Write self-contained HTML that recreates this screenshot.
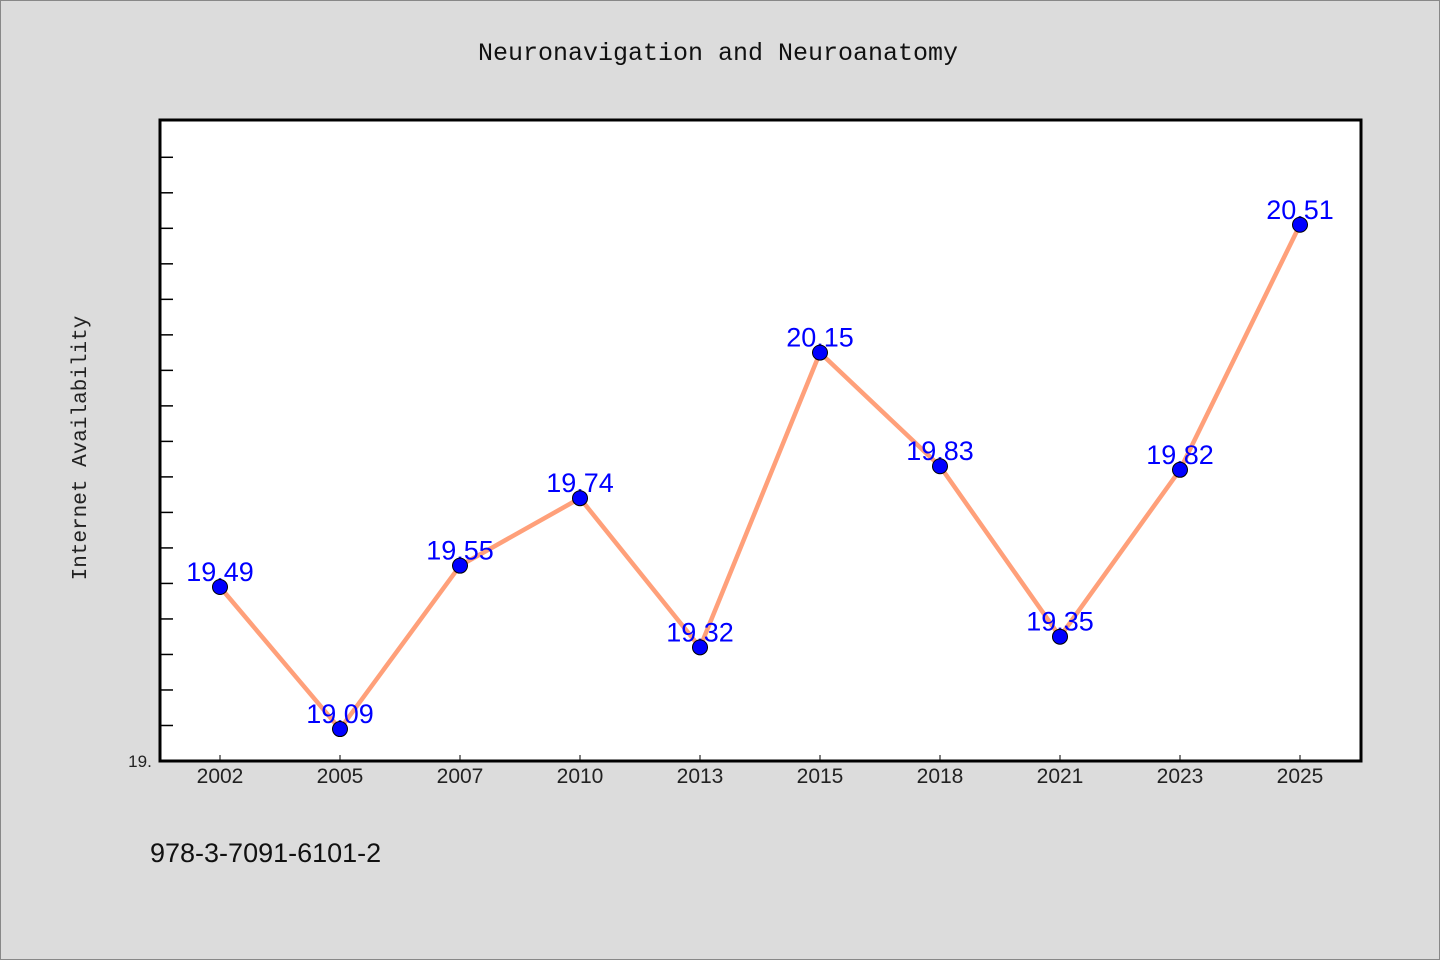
<!DOCTYPE html>
<html><head><meta charset="utf-8"><style>
body{margin:0;background:#dcdcdc;}
svg{display:block;font-family:"WenQuanYi Zen Hei","Liberation Sans",sans-serif;}
</style></head><body>
<svg width="1440" height="960">
<rect x="0.5" y="0.5" width="1439" height="959" fill="#dcdcdc" stroke="#888"/>
<text x="718" y="60" text-anchor="middle" font-size="25" fill="#111" font-family="'Liberation Mono','WenQuanYi Zen Hei',monospace">Neuronavigation and Neuroanatomy</text>
<rect x="160" y="120" width="1201" height="641" fill="#fff"/>
<g id="yticks"></g><g id="xticks"></g>
<rect x="160" y="120" width="1201" height="641" fill="none" stroke="#000" stroke-width="3"/>
<text x="86" y="448" text-anchor="middle" font-size="21" fill="#222" transform="rotate(-90 86 448)" font-family="'Liberation Mono','WenQuanYi Zen Hei',monospace">Internet Availability</text>
<text x="140" y="767" text-anchor="middle" font-size="17" fill="#222">19.</text>
<g id="series"></g>
<text x="150" y="862" font-size="27" fill="#111">978-3-7091-6101-2</text>
</svg>
<script>
const categories=["2002","2005","2007","2010","2013","2015","2018","2021","2023","2025"];
const values=[19.49,19.09,19.55,19.74,19.32,20.15,19.83,19.35,19.82,20.51];
const yMin=19.0, yMax=20.805;
const NS="http://www.w3.org/2000/svg";
const y=v=>761-(v-yMin)*(641/(yMax-yMin));
const x=i=>220+i*120;
function mk(t,a,p){const e=document.createElementNS(NS,t);for(const k in a)e.setAttribute(k,a[k]);p.appendChild(e);return e;}
const yt=document.getElementById('yticks');
for(let k=1;k<=18;k++){const v=yMin+k*0.1;const yy=y(v);if(yy<122)break;
const l=mk('line',{x1:160,x2:173,y1:yy,y2:yy,stroke:'#000','stroke-width':1.5},yt);

}
const xt=document.getElementById('xticks');
categories.forEach((c,i)=>{
const l=mk('line',{x1:x(i),x2:x(i),y1:761,y2:755,stroke:'#000','stroke-width':1},xt);


const t=mk('text',{x:x(i),y:783,'text-anchor':'middle','font-size':21,fill:'#222'},xt);
t.textContent=c;


});
const s=document.getElementById('series');
const pl=mk('polyline',{points:values.map((v,i)=>x(i)+','+y(v)).join(' '),fill:'none',stroke:'#ffa07a','stroke-width':4.5},s);


values.forEach((v,i)=>{
const t=mk('text',{x:x(i),y:y(v)-6,'text-anchor':'middle','font-size':27,fill:'#0000ff'},s);
t.textContent=v.toFixed(2);


const c=mk('circle',{cx:x(i),cy:y(v),r:7.5,fill:'#0000ff',stroke:'#000','stroke-width':1},s);


});
</script>
</body></html>
